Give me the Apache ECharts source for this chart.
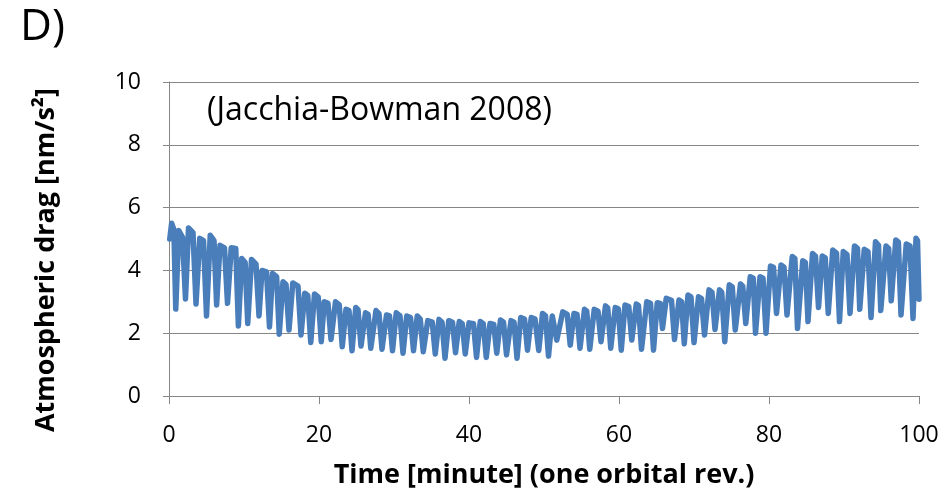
<!DOCTYPE html>
<html>
<head>
<meta charset="utf-8">
<script src="https://cdn.jsdelivr.net/npm/echarts@6/dist/echarts.min.js"></script>
<style>
html,body{margin:0;padding:0;background:#fff;}
#chart{width:947px;height:498px;}
</style>
</head>
<body>
<div id="chart"></div>
<script>
// Time [minute]
const timeMin = [
  0.1, 0.35, 0.65,
  0.9, 1.3, 1.8,
  2.2, 2.6, 3.2,
  3.6, 4.1, 4.6,
  5.0, 5.5, 6.0,
  6.35, 6.8, 7.4,
  7.8, 8.3, 8.9,
  9.25, 9.7, 10.15,
  10.5, 11.0, 11.6,
  12.0, 12.4, 13.0,
  13.4, 13.8, 14.35,
  14.7, 15.2, 15.6,
  16.0, 16.5, 17.2,
  17.6, 18.1, 18.5,
  18.9, 19.4, 19.9,
  20.3, 20.7, 21.2,
  21.6, 22.2, 22.7,
  23.1, 23.6, 24.0,
  24.4, 24.9, 25.2,
  25.6, 26.2, 26.55,
  26.9, 27.6, 28.0,
  28.4, 29.0, 29.4,
  29.8, 30.3, 30.8,
  31.2, 31.7, 32.2,
  32.6, 33.1, 33.5,
  33.9, 34.5, 35.1,
  35.5, 36.0, 36.4,
  36.8, 37.3, 37.8,
  38.2, 38.7, 39.1,
  39.5, 40.0, 40.6,
  41.0, 41.5, 41.9,
  42.3, 42.8, 43.3,
  43.7, 44.2, 44.6,
  45.0, 45.6, 46.0,
  46.4, 46.9, 47.4,
  47.8, 48.3, 48.8,
  49.3, 49.8, 50.2,
  50.6, 51.1, 51.35,
  51.7, 52.5, 53.1,
  53.5, 54.0, 54.4,
  54.8, 55.4, 55.7,
  56.1, 56.7, 57.2,
  57.6, 58.2, 58.5,
  58.9, 59.5, 59.9,
  60.3, 60.8, 61.3,
  61.7, 62.3, 62.6,
  63.0, 63.7, 64.2,
  64.6, 65.1, 65.5,
  65.8, 66.3, 67.0,
  67.4, 68.0, 68.35,
  68.7, 69.2, 69.6,
  70.0, 70.6, 71.0,
  71.4, 72.0, 72.4,
  72.8, 73.4, 73.7,
  74.1, 74.7, 75.1,
  75.5, 76.2, 76.5,
  76.9, 77.5, 77.9,
  78.2, 78.8, 79.2,
  79.6, 80.2, 80.6,
  81.0, 81.6, 82.0,
  82.4, 83.1, 83.45,
  83.8, 84.5, 84.85,
  85.2, 85.8, 86.2,
  86.6, 87.1, 87.5,
  87.9, 88.5, 89.0,
  89.4, 89.9, 90.4,
  90.8, 91.4, 91.8,
  92.1, 92.7, 93.2,
  93.6, 94.2, 94.6,
  94.9, 95.6, 95.95,
  96.3, 96.9, 97.25,
  97.6, 98.3, 98.8,
  99.2, 99.6, 99.8,
  100.0
];
// Atmospheric drag [nm/s^2]
const dragValue = [
  5.0, 5.5, 5.3,
  2.77, 5.27, 5.05,
  3.09, 5.35, 5.2,
  2.93, 5.02, 4.95,
  2.55, 5.12, 4.95,
  2.9, 4.8, 4.72,
  2.95, 4.72, 4.7,
  2.23, 4.38, 4.25,
  2.31, 4.35, 4.2,
  2.55, 4.0, 3.95,
  2.2, 3.9, 3.8,
  1.97, 3.64, 3.55,
  2.1, 3.6, 3.5,
  1.94, 3.27, 3.2,
  1.7, 3.25, 3.15,
  1.73, 3.0, 2.95,
  1.8, 3.0, 2.9,
  1.57, 2.76, 2.72,
  1.44, 2.82, 2.75,
  1.59, 2.65, 2.6,
  1.52, 2.72, 2.62,
  1.49, 2.58, 2.55,
  1.44, 2.65, 2.55,
  1.36, 2.55, 2.5,
  1.44, 2.55, 2.45,
  1.41, 2.4, 2.35,
  1.34, 2.44, 2.35,
  1.2, 2.4, 2.35,
  1.38, 2.37, 2.3,
  1.34, 2.33, 2.3,
  1.23, 2.37, 2.3,
  1.23, 2.31, 2.28,
  1.36, 2.42, 2.35,
  1.31, 2.4, 2.35,
  1.2, 2.5, 2.45,
  1.46, 2.5, 2.45,
  1.45, 2.63, 2.55,
  1.27, 2.55, 2.5,
  1.78, 2.68, 2.6,
  1.62, 2.63, 2.6,
  1.52, 2.76, 2.7,
  1.49, 2.76, 2.7,
  1.73, 2.87, 2.8,
  1.52, 2.82, 2.78,
  1.46, 2.9, 2.85,
  1.78, 2.93, 2.88,
  1.49, 3.0, 2.95,
  1.46, 2.97, 2.95,
  2.15, 3.11, 3.05,
  1.8, 3.06, 3.0,
  1.66, 3.22, 3.15,
  1.7, 3.16, 3.1,
  1.94, 3.38, 3.3,
  2.12, 3.38, 3.3,
  1.73, 3.54, 3.48,
  2.1, 3.57, 3.5,
  2.31, 3.8, 3.75,
  2.0, 3.8, 3.75,
  2.0, 4.14, 4.1,
  2.63, 4.17, 4.1,
  2.58, 4.44, 4.38,
  2.15, 4.31, 4.25,
  2.37, 4.54, 4.45,
  2.82, 4.46, 4.4,
  2.63, 4.65, 4.55,
  2.37, 4.6, 4.5,
  2.63, 4.78, 4.7,
  2.76, 4.67, 4.6,
  2.5, 4.91, 4.8,
  2.72, 4.78, 4.7,
  3.03, 4.97, 4.9,
  2.58, 4.84, 4.78,
  2.47, 5.02, 4.95,
  3.08
];
const yTicks = [0, 2, 4, 6, 8, 10];
const xTicks = [0, 20, 40, 60, 80, 100];

const seriesData = timeMin.map((t, i) => [t, dragValue[i]]);
const FONT = "'Open Sans', 'Noto Sans', sans-serif";

const chart = echarts.init(document.getElementById('chart'), null, {renderer: 'canvas'});
chart.setOption({
  animation: false,
  backgroundColor: '#ffffff',
  grid: {left: 169, right: 28, top: 82, bottom: 102, containLabel: false},
  xAxis: {
    type: 'value', min: xTicks[0], max: xTicks[xTicks.length - 1], interval: 20,
    name: 'Time [minute] (one orbital rev.)',
    nameLocation: 'middle', nameGap: 66,
    nameTextStyle: {fontFamily: FONT, fontSize: 27, fontWeight: 'bold', color: '#000'},
    axisLine: {show: true, onZero: false, lineStyle: {color: '#868686', width: 1}},
    axisTick: {show: true, inside: false, length: 8, lineStyle: {color: '#868686'}},
    axisLabel: {fontFamily: FONT, fontSize: 23, color: '#000', margin: 28},
    splitLine: {show: false}
  },
  yAxis: {
    type: 'value', min: yTicks[0], max: yTicks[yTicks.length - 1], interval: 2,
    axisLine: {show: true, lineStyle: {color: '#868686', width: 1}},
    axisTick: {show: true, inside: false, length: 6, lineStyle: {color: '#868686'}},
    axisLabel: {fontFamily: FONT, fontSize: 23, color: '#000', margin: 28},
    splitLine: {show: true, lineStyle: {color: '#868686', width: 1}}
  },
  graphic: [
    {type: 'text', left: 20, top: 5, style: {text: 'D)', fontFamily: FONT, fontSize: 44, fill: '#000'}},
    {type: 'text', left: 207, top: 95, style: {text: '(Jacchia-Bowman 2008)', fontFamily: FONT, fontSize: 32, fill: '#000'}},
    {type: 'text', x: 46, y: 260, rotation: Math.PI / 2,
     style: {text: 'Atmospheric drag [nm/s²]', fontFamily: FONT, fontSize: 27, fontWeight: 'bold', fill: '#000', align: 'center', verticalAlign: 'middle'}}
  ],
  series: [{
    type: 'line',
    data: seriesData,
    showSymbol: false,
    smooth: false,
    clip: true,
    lineStyle: {color: '#4a7ebb', width: 5.5, join: 'round', cap: 'round'}
  }]
});
</script>
</body>
</html>
